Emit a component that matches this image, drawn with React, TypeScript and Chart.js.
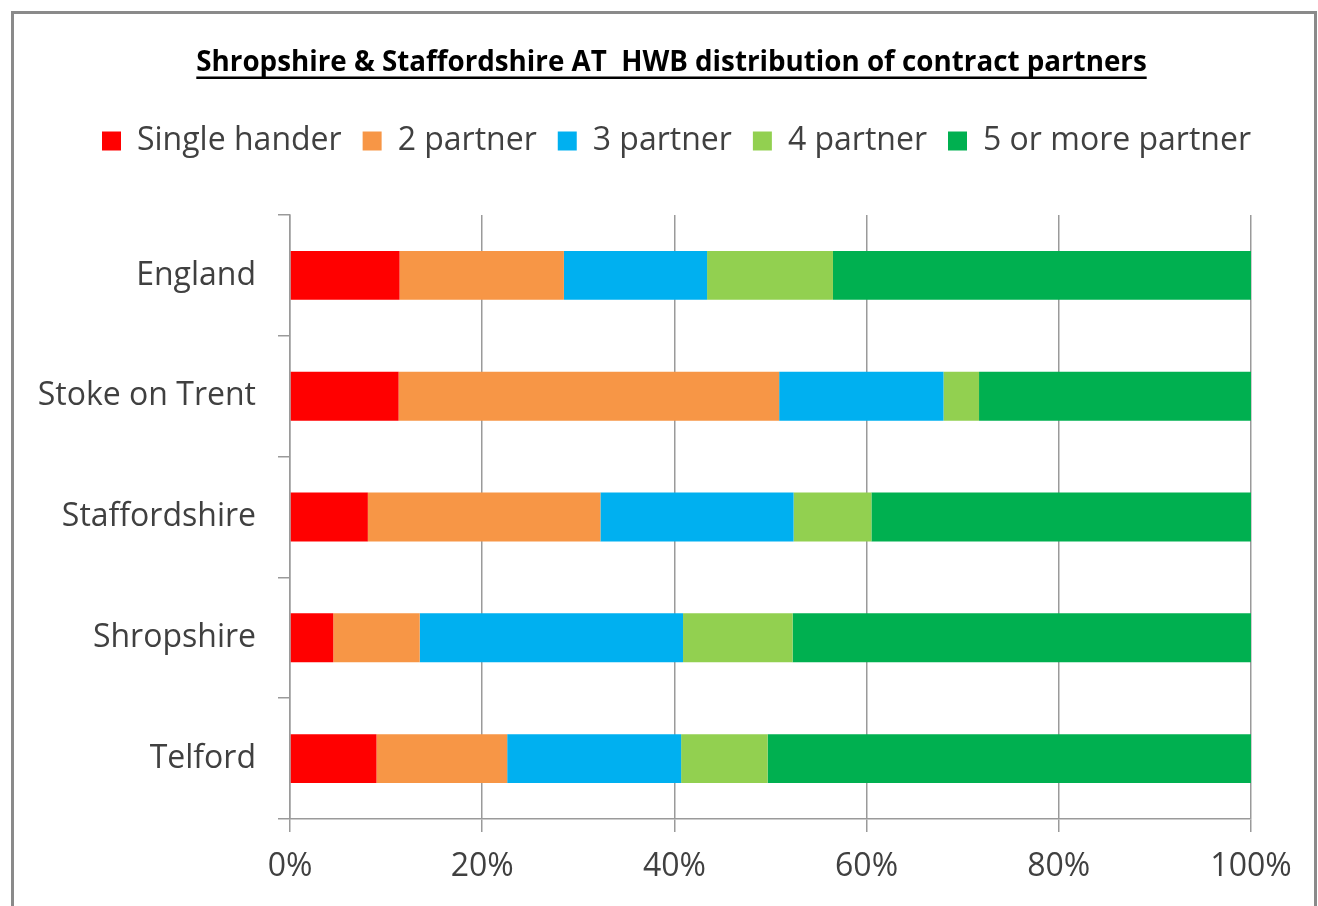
import React, { useEffect, useRef } from "react";
import { Chart, registerables } from "chart.js";

Chart.register(...registerables);

const TITLE = "Shropshire & Staffordshire AT  HWB distribution of contract partners";
const categories = ["England", "Stoke on Trent", "Staffordshire", "Shropshire", "Telford"];
const seriesNames = ["Single hander", "2 partner", "3 partner", "4 partner", "5 or more partner"];
const singleHander = [11.4, 11.3, 8.1, 4.5, 9.0];
const twoPartner = [17.1, 39.6, 24.2, 9.0, 13.6];
const threePartner = [14.9, 17.1, 20.1, 27.4, 18.1];
const fourPartner = [13.1, 3.7, 8.1, 11.4, 9.0];
const fivePlusPartner = [43.5, 28.3, 39.5, 47.7, 50.3];
const seriesColors = ["#FF0000", "#F79646", "#00B0F0", "#92D050", "#00B050"];
const xTicks = [0, 20, 40, 60, 80, 100];

const FONT = "'Open Sans', Lato, sans-serif";
const TEXT = "#404040";
const GRID = "#9a9a9a";
const TITLE_SIZE = 27.75;

const framePlugin = {
  id: "frame",
  beforeDraw(chart: any) {
    const ctx = chart.ctx;
    ctx.save();
    ctx.fillStyle = "#ffffff";
    ctx.fillRect(0, 0, chart.width, chart.height);
    ctx.strokeStyle = "#8a8a8a";
    ctx.lineWidth = 3;
    ctx.strokeRect(12.5, 12.5, 1303, 1000);
    ctx.restore();
  },
};

const unclipLabelsPlugin = {
  id: "unclipLabels",
  afterLayout(chart: any) {
    if (chart.scales.y) chart.scales.y.left = 0;
  },
};

const titlePlugin = {
  id: "underlinedTitle",
  afterDraw(chart: any) {
    const ctx = chart.ctx;
    ctx.save();
    ctx.font = `bold ${TITLE_SIZE}px ${FONT}`;
    ctx.fillStyle = "#000";
    ctx.textAlign = "center";
    ctx.textBaseline = "alphabetic";
    const cx = 671.5;
    const baseline = 71;
    ctx.fillText(TITLE, cx, baseline);
    const w = ctx.measureText(TITLE).width;
    ctx.fillRect(cx - w / 2, baseline + 5.5, w, 2.5);
    ctx.restore();
  },
};

export default function App() {
  const ref = useRef<HTMLCanvasElement>(null);
  useEffect(() => {
    const values = [singleHander, twoPartner, threePartner, fourPartner, fivePlusPartner];
    const chart = new Chart(ref.current!, {
      type: "bar",
      data: {
        labels: categories,
        datasets: seriesNames.map((name, i) => ({
          label: name,
          data: values[i],
          backgroundColor: seriesColors[i],
          borderWidth: 0,
          barPercentage: 0.405,
          categoryPercentage: 1.0,
        })),
      },
      options: {
        indexAxis: "y",
        responsive: false,
        animation: false,
        layout: { padding: { top: 104, left: 20, right: 46, bottom: 0 } },
        plugins: {
          tooltip: { enabled: false },
          title: { display: false },
          legend: {
            display: true,
            position: "top",
            align: "end",
            labels: {
              color: TEXT,
              font: { family: FONT, size: 32 },
              boxWidth: 19,
              boxHeight: 19,
              padding: 21,
            },
          },
          subtitle: {
            display: true,
            text: " ",
            weight: 500,
            font: { family: FONT, size: 10, lineHeight: 1 },
            padding: { top: 38, bottom: 0 },
          },
        },
        scales: {
          x: {
            stacked: true,
            min: 0,
            max: 100,
            afterBuildTicks(scale: any) {
              scale.ticks = xTicks.map((v) => ({ value: v }));
            },
            afterFit(scale: any) {
              scale.height = 87;
            },
            ticks: {
              color: TEXT,
              font: { family: FONT, size: 32 },
              padding: 16,
              maxRotation: 0,
              callback: (v: any) => `${v}%`,
            },
            grid: { color: GRID, lineWidth: 1.5, tickLength: 13, drawTicks: true },
            border: { color: GRID, width: 1.5 },
          },
          y: {
            stacked: true,
            afterFit(scale: any) {
              scale.width = 270;
            },
            ticks: {
              color: TEXT,
              font: { family: FONT, size: 32 },
              padding: 22,
            },
            grid: {
              offset: true,
              drawOnChartArea: false,
              drawTicks: true,
              tickLength: 12,
              color: GRID,
              lineWidth: 1.5,
            },
            border: { color: GRID, width: 1.5 },
          },
          ySpacer: {
            type: "linear",
            position: "right",
            display: true,
            afterFit(scale: any) {
              scale.width = 21;
            },
            ticks: { display: false },
            grid: { display: false, drawTicks: false },
            border: { display: false },
          },
        },
      },
      plugins: [framePlugin, unclipLabelsPlugin, titlePlugin],
    } as any);
    return () => chart.destroy();
  }, []);
  return (
    <div style={{ position: "fixed", left: 0, top: 0, width: 1318, height: 906, background: "#fff" }}>
      <canvas ref={ref} width={1318} height={906} style={{ display: "block", width: 1318, height: 906 }} />
    </div>
  );
}
